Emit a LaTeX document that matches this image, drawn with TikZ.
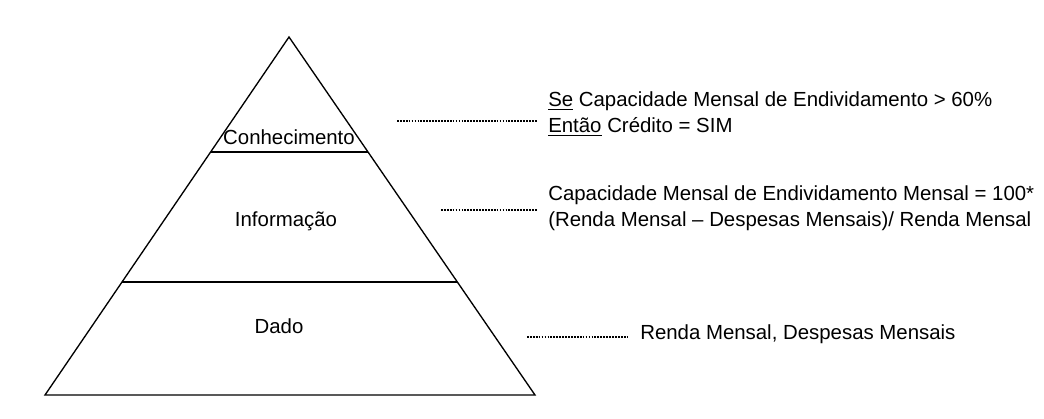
\documentclass[tikz,border=0pt]{standalone}
\usepackage{fontspec}
\setmainfont{Liberation Sans}
\usetikzlibrary{calc}

\begin{document}
\begin{tikzpicture}[x=0.75pt, y=-0.75pt,
    layer/.style={font=\fontsize{15.3}{19.5}\selectfont},
    note/.style={font=\fontsize{15.3}{19.5}\selectfont, align=left,
      anchor=west, inner xsep=8.25pt, inner ysep=0pt},
    lead/.style={line width=0.9pt, dash pattern=on 1.3pt off 0.9pt}]
    \useasboundingbox (0, 0) rectangle (1044, 418);
    \coordinate (top) at (289, 37);
    \coordinate (bl) at (45, 395);
    \coordinate (br) at (535, 395);
    \draw[line width=1pt, line join=miter] (top) -- (bl) -- (br) -- cycle;
    \draw[line width=1.6pt]
      ($(top)!0.321!(bl)$) -- ($(top)!0.321!(br)$)
      ($(top)!0.684!(bl)$) -- ($(top)!0.684!(br)$);
    \node[layer] at (289, 137) (con) {Conhecimento};
    \node[layer] at (286, 221) (inf) {Informação};
    \node[layer] at (279, 326) (dad) {Dado};
    \node[note] at (537, 114) (rule)
      {\underline{Se} Capacidade Mensal de Endividamento > 60\%\\
       \underline{Então} Crédito = SIM};
    \node[note] at (537, 208) (calc)
      {Capacidade Mensal de Endividamento Mensal = 100*\\
       (Renda Mensal -- Despesas Mensais)/ Renda Mensal};
    \node[note] at (629, 334) (data)
      {Renda Mensal, Despesas Mensais};
    \coordinate (confrom) at (397, 121);
    \coordinate (inffrom) at (441, 210);
    \coordinate (dadfrom) at (527, 337);
    \draw[lead] (confrom) -- (confrom -| rule.west);
    \draw[lead] (inffrom) -- (inffrom -| calc.west);
    \draw[lead] (dadfrom) -- (dadfrom -| data.west);
  \end{tikzpicture}
\end{document}
